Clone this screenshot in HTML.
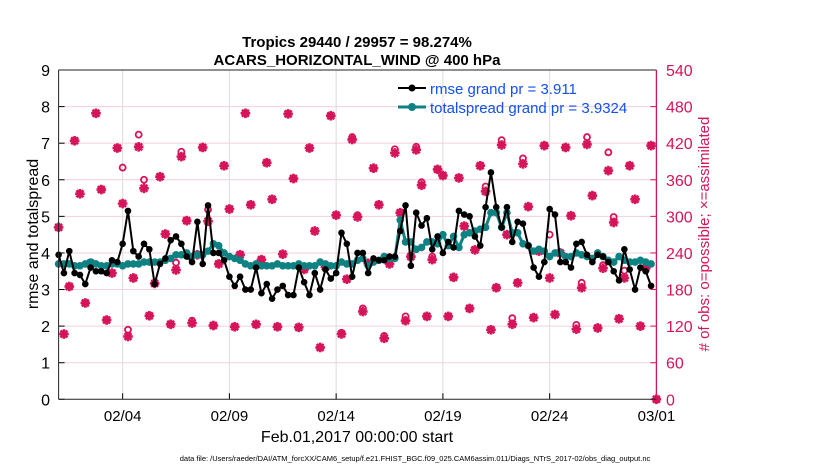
<!DOCTYPE html>
<html><head><meta charset="utf-8"><style>
html,body{margin:0;padding:0;background:#fff;}
svg{display:block;font-family:"Liberation Sans",sans-serif;}
</style></head><body>
<svg id="chart" width="830" height="470" viewBox="0 0 830 470" xmlns="http://www.w3.org/2000/svg">
<rect width="830" height="470" fill="#fff"/>
<g id="grid"></g>
<g id="marks"></g>
<g id="axes"></g>
<text x="357" y="47" text-anchor="middle" font-size="15" font-weight="bold">Tropics 29440 / 29957 = 98.274%</text>
<text x="357" y="65" text-anchor="middle" font-size="15" font-weight="bold">ACARS_HORIZONTAL_WIND @ 400 hPa</text>
<text transform="translate(38,234) rotate(-90)" text-anchor="middle" font-size="16">rmse and totalspread</text>
<text transform="translate(709,234) rotate(-90)" text-anchor="middle" font-size="15" fill="#d6145a"># of obs: o=possible; ×=assimilated</text>
<text x="357" y="442" text-anchor="middle" font-size="16">Feb.01,2017 00:00:00 start</text>
<text x="415" y="461" text-anchor="middle" font-size="7.5">data file: /Users/raeder/DAI/ATM_forcXX/CAM6_setup/f.e21.FHIST_BGC.f09_025.CAM6assim.011/Diags_NTrS_2017-02/obs_diag_output.nc</text>
<g>
<line x1="398" y1="88" x2="426" y2="88" stroke="#000" stroke-width="2"/><circle cx="412" cy="88" r="3.5" fill="#000"/>
<text x="430" y="94" font-size="15" fill="#1450f0">rmse grand pr = 3.911</text>
<line x1="398" y1="107" x2="426" y2="107" stroke="#0e8282" stroke-width="3"/><circle cx="412" cy="107" r="4" fill="#0e8282"/>
<text x="430" y="113" font-size="15" fill="#1450f0">totalspread grand pr = 3.9324</text>
</g>
</svg>
<script>
const rmse=[3.95,3.45,4.05,3.45,3.4,3.15,3.6,3.5,3.5,3.45,3.8,3.75,4.25,5.15,4.05,3.9,4.25,4.1,3.15,3.7,3.85,4.35,4.45,4.25,3.9,3.75,4.85,3.7,5.3,4.0,4.0,3.8,3.35,3.1,3.35,3.0,3.0,3.6,2.9,3.15,2.75,3.0,3.1,2.85,2.85,3.6,3.2,2.85,3.45,3.0,3.55,3.3,3.45,4.55,4.25,3.35,4.0,4.0,3.45,3.85,3.8,3.8,3.9,3.9,4.6,5.3,3.65,5.1,4.75,4.95,4.1,4.45,4.0,4.3,4.15,5.15,5.05,5.0,4.45,4.2,5.25,6.2,5.25,4.7,5.25,4.3,4.85,4.8,4.2,3.6,3.35,3.75,5.2,5.05,3.75,3.75,3.6,4.25,4.3,3.95,3.75,3.95,3.9,3.75,3.5,3.25,4.1,3.55,3.0,3.6,3.5,3.1];
const spread=[3.7,3.7,3.7,3.65,3.65,3.7,3.75,3.7,3.65,3.65,3.7,3.7,3.65,3.7,3.7,3.7,3.75,3.75,3.75,3.75,3.8,3.85,3.95,3.95,4.0,3.9,3.95,3.95,4.05,4.25,4.2,4.0,3.9,3.85,3.8,3.7,3.65,3.7,3.65,3.65,3.65,3.7,3.65,3.65,3.65,3.7,3.65,3.65,3.65,3.75,3.7,3.65,3.65,3.75,3.7,3.7,3.8,3.85,3.65,3.75,3.8,3.9,3.85,3.85,4.9,4.3,4.3,4.1,4.15,4.3,4.3,4.25,4.5,4.2,4.45,4.15,4.5,4.55,4.6,4.65,4.7,5.1,5.1,4.7,5.1,4.55,4.55,4.25,4.2,4.05,4.1,4.05,3.9,4.0,4.0,3.9,3.9,4.0,3.95,3.9,3.85,4.0,3.9,3.8,3.75,3.9,3.8,3.75,3.75,3.8,3.75,3.7];
const assimilated=[282,107,185,424,337,158,223,469,344,130,207,412,321,103,199,414,346,137,190,365,271,123,212,398,293,125,237,413,292,121,222,383,312,119,237,469,319,123,229,388,328,119,238,468,362,118,213,412,276,85,217,465,302,107,197,426,299,144,223,379,319,100,222,404,306,129,234,409,351,136,229,377,367,136,200,363,284,149,245,383,341,114,183,417,270,123,191,386,316,134,243,416,199,139,240,413,301,115,183,418,334,117,215,375,290,132,199,383,328,120,215,416,0];
const possible=[282,107,185,424,337,158,223,469,344,130,207,412,380,114,199,434,360,137,190,365,271,123,224,406,293,129,237,413,311,121,222,383,312,119,237,469,319,123,229,388,328,119,238,468,362,118,213,412,276,85,217,465,302,109,197,430,302,149,223,379,319,104,222,410,306,136,234,414,356,136,234,377,367,136,200,363,284,149,245,383,349,114,183,425,270,133,191,395,316,134,243,416,270,139,240,413,301,122,191,430,334,117,220,405,299,132,211,383,328,120,215,416,0];
const xTickDays=[3,8,13,18,23,28];
const xTickLabels=["02/04","02/09","02/14","02/19","02/24","03/01"];
const yTicks=[0,1,2,3,4,5,6,7,8,9];
const rTicks=[0,60,120,180,240,300,360,420,480,540];

const NS="http://www.w3.org/2000/svg";
const L=58.6,R=656.4,T=70,B=399.3;
const xs=d=>L+(R-L)*d/28;
const ys=v=>B-(B-T)*v/9;
const yr=v=>B-(B-T)*v/540;
const tDay=i=>i*0.25;
const MAG="#d6145a",TEAL="#0e8282";
function mk(tag,at,parent){const e=document.createElementNS(NS,tag);for(const k in at)e.setAttribute(k,at[k]);parent.appendChild(e);return e;}
const grid=document.getElementById('grid'),marks=document.getElementById('marks'),axes=document.getElementById('axes');

xTickDays.forEach((d,i)=>{
  const g=mk('line',{x1:xs(d),x2:xs(d),y1:T,y2:B,stroke:'#dcdcdc','stroke-width':1},grid);
  
  
  const t=mk('text',{x:xs(d),y:421,'text-anchor':'middle','font-size':15},axes);
  t.textContent=xTickLabels[i];
  
  
  mk('line',{x1:xs(d),x2:xs(d),y1:B,y2:B-6,stroke:'#000'},axes);
});
rTicks.forEach(v=>{
  if(v>0&&v<540){const g=mk('line',{x1:L,x2:R,y1:yr(v),y2:yr(v),stroke:'#f4cfdc','stroke-width':1},grid);
  
  }
  const t=mk('text',{x:666,y:yr(v)+6,'font-size':16,fill:MAG},axes);
  t.textContent=v;
  
  
  mk('line',{x1:R,x2:R-6,y1:yr(v),y2:yr(v),stroke:MAG},axes);
});
yTicks.forEach(v=>{
  const t=mk('text',{x:50,y:ys(v)+6,'text-anchor':'end','font-size':16},axes);
  t.textContent=v;
  
  
  mk('line',{x1:L,x2:L+6,y1:ys(v),y2:ys(v),stroke:'#000'},axes);
});
mk('line',{x1:L,x2:R,y1:T,y2:T,stroke:'#222'},axes);
mk('line',{x1:L,x2:R,y1:B,y2:B,stroke:'#222'},axes);
mk('line',{x1:L,x2:L,y1:T,y2:B,stroke:'#222'},axes);
mk('line',{x1:R,x2:R,y1:T,y2:B,stroke:MAG,'stroke-width':1.3},axes);

assimilated.forEach((v,i)=>{
  const x=xs(tDay(i)),y=yr(v),r=4.8;
  const g=mk('g',{stroke:MAG,'stroke-width':2.6},marks);
  
  
  mk('line',{x1:x-r,x2:x+r,y1:y,y2:y},g);
  mk('line',{x1:x,x2:x,y1:y-r,y2:y+r},g);
  mk('line',{x1:x-r*0.72,x2:x+r*0.72,y1:y-r*0.72,y2:y+r*0.72},g);
  mk('line',{x1:x-r*0.72,x2:x+r*0.72,y1:y+r*0.72,y2:y-r*0.72},g);
});
possible.forEach((v,i)=>{
  const c=mk('circle',{cx:xs(tDay(i)),cy:yr(v),r:3,fill:'none',stroke:MAG,'stroke-width':1.8},marks);
  
  
});
const sp=mk('polyline',{points:spread.map((v,i)=>xs(tDay(i))+','+ys(v)).join(' '),fill:'none',stroke:TEAL,'stroke-width':3},marks);


spread.forEach((v,i)=>{
  const c=mk('circle',{cx:xs(tDay(i)),cy:ys(v),r:3.8,fill:TEAL},marks);
  
  
});
const rl=mk('polyline',{points:rmse.map((v,i)=>xs(tDay(i))+','+ys(v)).join(' '),fill:'none',stroke:'#000','stroke-width':2},marks);


rmse.forEach((v,i)=>{
  const c=mk('circle',{cx:xs(tDay(i)),cy:ys(v),r:3.3,fill:'#000'},marks);
  
  
});
</script>
</body></html>
